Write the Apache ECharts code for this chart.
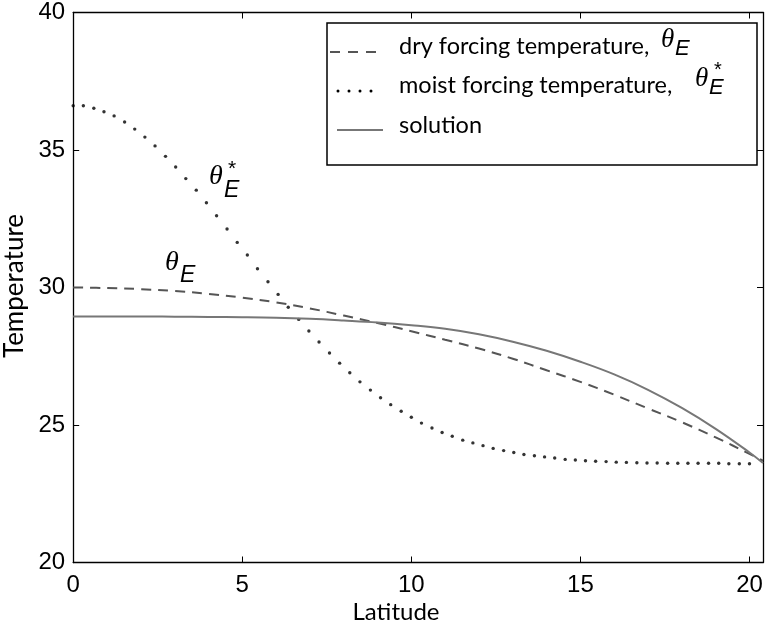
<!DOCTYPE html>
<html>
<head>
<meta charset="utf-8">
<script src="https://cdn.jsdelivr.net/npm/echarts@6/dist/echarts.min.js"></script>
<style>html,body{margin:0;padding:0;background:#fff;}#c{width:766px;height:626px;}</style>
</head>
<body>
<div id="c"></div>
<script>
// x ticks / y ticks
const xTicks = [0, 5, 10, 15, 20];
const yTicks = [20, 25, 30, 35, 40];

// dry forcing temperature (dashed)
const dryX = [0, 1, 2, 3, 4, 5, 6, 7, 8, 9, 10, 11, 12, 13, 14, 15, 16, 17, 18, 19, 20, 20.4];
const dryY = [30.0, 29.98, 29.94, 29.87, 29.77, 29.63, 29.46, 29.24, 28.98, 28.71, 28.41, 28.1, 27.78, 27.41, 26.99, 26.57, 26.1, 25.6, 25.1, 24.55, 23.95, 23.7];

// solution (solid)
const solX = [0, 1, 2, 3, 4, 5, 6, 7, 8, 9, 10, 11, 12, 13, 14, 15, 16, 17, 18, 19, 20, 20.4];
const solY = [28.95, 28.95, 28.95, 28.94, 28.93, 28.92, 28.9, 28.86, 28.8, 28.73, 28.63, 28.5, 28.3, 28.03, 27.7, 27.3, 26.84, 26.28, 25.62, 24.86, 24.0, 23.62];

// moist forcing temperature (dots)
const moistX = [0, 0.30, 0.61, 0.91, 1.21, 1.52, 1.82, 2.12, 2.42, 2.73, 3.03, 3.33, 3.64, 3.94, 4.24, 4.55, 4.85, 5.15, 5.45, 5.76, 6.06, 6.36, 6.67, 6.97, 7.27, 7.58, 7.88, 8.18, 8.48, 8.79, 9.09, 9.39, 9.70, 10.00, 10.30, 10.61, 10.91, 11.21, 11.52, 11.82, 12.12, 12.42, 12.73, 13.03, 13.33, 13.64, 13.94, 14.24, 14.55, 14.85, 15.15, 15.45, 15.76, 16.06, 16.36, 16.67, 16.97, 17.27, 17.58, 17.88, 18.18, 18.48, 18.79, 19.09, 19.39, 19.70, 20.00];
const moistY = [36.61, 36.61, 36.52, 36.39, 36.24, 36.02, 35.76, 35.47, 35.15, 34.77, 34.38, 33.96, 33.54, 33.08, 32.61, 32.13, 31.64, 31.18, 30.68, 30.21, 29.75, 29.28, 28.84, 28.42, 28.02, 27.62, 27.25, 26.9, 26.57, 26.27, 25.99, 25.74, 25.5, 25.28, 25.07, 24.89, 24.73, 24.59, 24.45, 24.35, 24.25, 24.15, 24.07, 24.0, 23.93, 23.88, 23.84, 23.8, 23.75, 23.73, 23.7, 23.68, 23.67, 23.65, 23.64, 23.63, 23.62, 23.62, 23.61, 23.61, 23.61, 23.61, 23.61, 23.61, 23.59, 23.59, 23.59];

const zip = (a, b) => a.map((v, i) => [v, b[i]]);

const chart = echarts.init(document.getElementById('c'), null, {renderer: 'canvas'});
const axisLine = {show: true, onZero: false, lineStyle: {color: '#000', width: 1.3}};
const tickIn = {show: true, inside: true, length: 6, lineStyle: {color: '#000', width: 1}};
const labelStyle = {color: '#000', fontSize: 24, fontFamily: 'Liberation Sans'};

const option = {
  animation: false,
  backgroundColor: '#fff',
  grid: {left: 73.2, right: -5.8, top: 12.5, bottom: 63.5, containLabel: false},
  xAxis: [
    {type: 'value', position: 'bottom', min: 0, max: 20.4, interval: 5,
     axisLine, axisTick: tickIn, splitLine: {show: false},
     axisLabel: Object.assign({margin: 11, showMaxLabel: true, formatter: v => xTicks.includes(v) ? String(v) : ''}, labelStyle)},
    {type: 'value', position: 'top', min: 0, max: 20.4, interval: 5,
     axisLine, axisTick: tickIn, splitLine: {show: false}, axisLabel: {show: false}}
  ],
  yAxis: [
    {type: 'value', position: 'left', min: 20, max: 40, interval: 5,
     axisLine, axisTick: tickIn, splitLine: {show: false},
     axisLabel: Object.assign({margin: 8, formatter: v => yTicks.includes(v) ? String(v) : ''}, labelStyle)},
    {type: 'value', position: 'right', min: 20, max: 40, interval: 5,
     axisLine, axisTick: tickIn, splitLine: {show: false}, axisLabel: {show: false}}
  ],
  series: [
    {name: 'dry', type: 'line', data: zip(dryX, dryY), smooth: 0.4, showSymbol: false, clip: true,
     lineStyle: {color: '#555', width: 2, type: [10, 7]}},
    {name: 'moist', type: 'scatter', data: zip(moistX, moistY), symbol: 'circle', symbolSize: 3.4, clip: true,
     itemStyle: {color: '#000'}},
    {name: 'solution', type: 'line', data: zip(solX, solY), smooth: 0.4, showSymbol: false, clip: true,
     lineStyle: {color: '#777', width: 2}}
  ],
  graphic: [
    // axis titles
    {type: 'text', x: 396, y: 612, style: {text: 'Latitude', font: '24px Lato', fill: '#000', align: 'center', verticalAlign: 'middle'}},
    {type: 'text', x: 15, y: 286, rotation: Math.PI / 2, style: {text: 'Temperature', font: '26px Lato', fill: '#000', align: 'center', verticalAlign: 'middle'}},
    // legend box
    {type: 'rect', z: 10, shape: {x: 327, y: 23, width: 430, height: 142}, style: {fill: '#fff', stroke: '#000', lineWidth: 1.5}},
    {type: 'line', z: 11, shape: {x1: 330, y1: 52, x2: 383, y2: 52}, style: {stroke: '#555', lineWidth: 2, lineDash: [10, 8]}},
    {type: 'circle', z: 11, shape: {cx: 338, cy: 91, r: 1.5}, style: {fill: '#000'}},
    {type: 'circle', z: 11, shape: {cx: 349, cy: 91, r: 1.5}, style: {fill: '#000'}},
    {type: 'circle', z: 11, shape: {cx: 360, cy: 91, r: 1.5}, style: {fill: '#000'}},
    {type: 'circle', z: 11, shape: {cx: 371, cy: 91, r: 1.5}, style: {fill: '#000'}},
    {type: 'line', z: 11, shape: {x1: 337, y1: 130, x2: 383, y2: 130}, style: {stroke: '#777', lineWidth: 2}},
    {type: 'text', z: 11, x: 399, y: 46, style: {text: 'dry forcing temperature,', font: '23.5px Lato', fill: '#000', verticalAlign: 'middle'}},
    {type: 'text', z: 11, x: 399, y: 85, style: {text: 'moist forcing temperature,', font: '23.5px Lato', fill: '#000', verticalAlign: 'middle'}},
    {type: 'text', z: 11, x: 399, y: 125, style: {text: 'solution', font: '23.5px Lato', fill: '#000', verticalAlign: 'middle'}},
    {type: 'text', z: 11, x: 661, y: 26, style: {text: 'θ', font: 'italic 27px Liberation Serif', fill: '#000'}},
    {type: 'text', z: 11, x: 675, y: 38, style: {text: 'E', font: 'italic 22px Liberation Sans', fill: '#000'}},
    {type: 'text', z: 11, x: 695, y: 65, style: {text: 'θ', font: 'italic 27px Liberation Serif', fill: '#000'}},
    {type: 'text', z: 11, x: 709, y: 77, style: {text: 'E', font: 'italic 22px Liberation Sans', fill: '#000'}},
    {type: 'text', z: 11, x: 714, y: 60, style: {text: '*', font: '20px Liberation Sans', fill: '#000'}},
    // curve annotations
    {type: 'text', x: 209, y: 163, style: {text: 'θ', font: 'italic 28px Liberation Serif', fill: '#000'}},
    {type: 'text', x: 224, y: 179, style: {text: 'E', font: 'italic 23px Liberation Sans', fill: '#000'}},
    {type: 'text', x: 228, y: 159, style: {text: '*', font: '21px Liberation Sans', fill: '#000'}},
    {type: 'text', x: 165, y: 249, style: {text: 'θ', font: 'italic 28px Liberation Serif', fill: '#000'}},
    {type: 'text', x: 180, y: 264, style: {text: 'E', font: 'italic 23px Liberation Sans', fill: '#000'}}
  ]
};
chart.setOption(option);
</script>
</body>
</html>
